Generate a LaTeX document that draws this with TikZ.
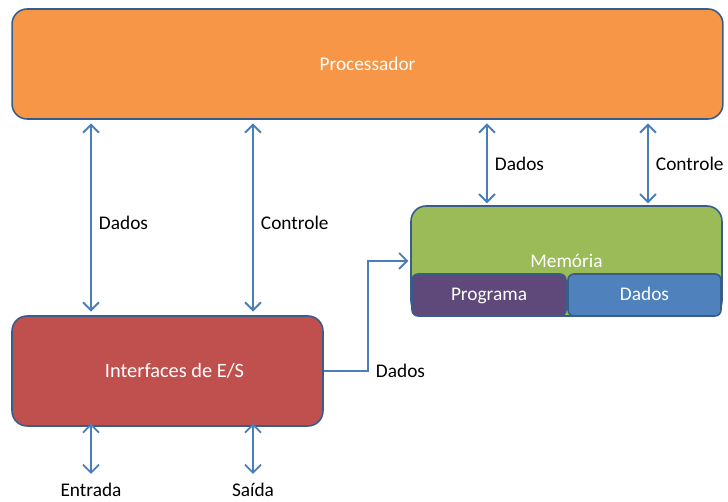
\documentclass[tikz,border=0pt]{standalone}
\usepackage{fontspec}
\setmainfont{Carlito}
\usetikzlibrary{arrows.meta}
\definecolor[named]{OffOrange}{HTML}{F79646}
\definecolor[named]{OffRed}{HTML}{C0504D}
\definecolor[named]{OffGreen}{HTML}{9BBB59}
\definecolor[named]{OffPurple}{HTML}{5F497A}
\definecolor[named]{OffBlue}{HTML}{4F81BD}
\definecolor[named]{OffLine}{HTML}{385D8A}
\definecolor[named]{OffArrow}{HTML}{4A7EBB}
\tikzset{
  unit/.style={draw=OffLine,line width=0.9pt,rounded corners=0.3cm,
    text=white,minimum width=6.22cm,minimum height=2.2cm},
  part/.style={draw=OffLine,line width=0.9pt,rounded corners=0.12cm,
    text=white,minimum height=0.84cm,inner sep=0pt,text height=1.6ex,text depth=0.2ex},
  link/.style={OffArrow,line width=1.1pt,
    {Straight Barb[length=1.6mm,width=3.2mm]}-{Straight Barb[length=1.6mm,width=3.2mm]}},
  wire/.style={OffArrow,line width=1.1pt,-{Straight Barb[length=1.6mm,width=3.2mm]}},
  lbl/.style={inner sep=1pt,text=black}
}

\begin{document}
\begin{tikzpicture}[x=0.02cm,y=-0.02cm,font=\fontsize{11}{13}\selectfont]
    \useasboundingbox (0,0) rectangle (728,502);

    % Blocks
    \node[unit,fill=OffOrange,minimum width=14.22cm] (P) at (367.5,64) {Processador};
    \node[unit,fill=OffGreen] (M) at (566.5,261) {Memória};
    \node[unit,fill=OffRed] (E) at (167.5,371) {\hspace{8pt}\fontsize{11.6}{13}\selectfont Interfaces de E/S};
    \node[part,fill=OffPurple,minimum width=3.08cm] (MP) at (489,295) {Programa};
    \node[part,fill=OffBlue,minimum width=3.06cm] (MD) at (644.5,295) {Dados};

    % Columns of the buses
    \coordinate (c1) at (91,0);
    \coordinate (c2) at (253,0);
    \coordinate (c3) at (487,0);
    \coordinate (c4) at (648,0);
    \coordinate (IN) at (91,474);
    \coordinate (OUT) at (253,474);
    \coordinate (J) at (368,0);

    % Processor <-> I/O
    \draw[link] ([yshift=-2pt]c1 |- P.south) -- node[lbl,right=3pt,yshift=-3pt] {Dados} ([yshift=2pt]c1 |- E.north);
    \draw[link] ([yshift=-2pt]c2 |- P.south) -- node[lbl,right=3pt,yshift=-3pt] {Controle} ([yshift=2pt]c2 |- E.north);

    % Processor <-> memory
    \draw[link] ([yshift=-2pt]c3 |- P.south) -- node[lbl,right=3pt] {Dados} ([yshift=1pt]c3 |- M.north);
    \draw[link] ([yshift=-2pt]c4 |- P.south) -- node[lbl,right=3pt] {Controle} ([yshift=1pt]c4 |- M.north);

    % I/O -> memory
    \draw[wire] (E.east) -- (J |- E.east) node[lbl,right=3pt] {Dados}
      -- (J |- M.west) -- ([xshift=-1pt]M.west);

    % Outside world
    \draw[link] ([yshift=2pt]IN |- E.south) -- (IN) node[lbl,below=3.5pt] {Entrada};
    \draw[link] ([yshift=2pt]OUT |- E.south) -- (OUT) node[lbl,below=3.5pt] {Saída};
\end{tikzpicture}
\end{document}
